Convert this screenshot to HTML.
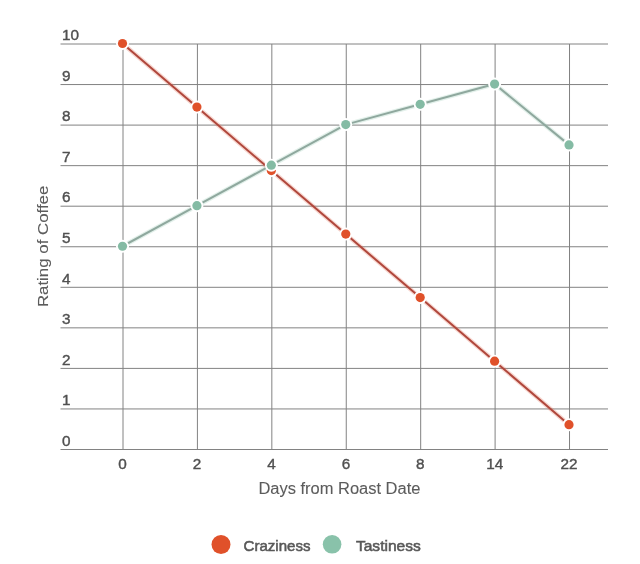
<!DOCTYPE html>
<html><head><meta charset="utf-8"><style>
html,body{margin:0;padding:0;background:#fff;}
svg{display:block;font-family:"Liberation Sans",Arial,sans-serif;}
</style></head><body>
<svg width="640" height="564" viewBox="0 0 640 564">
<rect width="640" height="564" fill="#fff"/>
<g stroke="#828282" stroke-width="1"><line x1="60.5" y1="449.50" x2="608" y2="449.50"/><line x1="60.5" y1="408.95" x2="608" y2="408.95"/><line x1="60.5" y1="368.40" x2="608" y2="368.40"/><line x1="60.5" y1="327.85" x2="608" y2="327.85"/><line x1="60.5" y1="287.30" x2="608" y2="287.30"/><line x1="60.5" y1="246.75" x2="608" y2="246.75"/><line x1="60.5" y1="206.20" x2="608" y2="206.20"/><line x1="60.5" y1="165.65" x2="608" y2="165.65"/><line x1="60.5" y1="125.10" x2="608" y2="125.10"/><line x1="60.5" y1="84.55" x2="608" y2="84.55"/><line x1="60.5" y1="44.00" x2="608" y2="44.00"/><line x1="123.00" y1="44.00" x2="123.00" y2="449.50"/><line x1="197.42" y1="44.00" x2="197.42" y2="449.50"/><line x1="271.84" y1="44.00" x2="271.84" y2="449.50"/><line x1="346.26" y1="44.00" x2="346.26" y2="449.50"/><line x1="420.68" y1="44.00" x2="420.68" y2="449.50"/><line x1="495.10" y1="44.00" x2="495.10" y2="449.50"/><line x1="569.52" y1="44.00" x2="569.52" y2="449.50"/></g>
<g font-size="15.3" fill="#505050" stroke="#505050" stroke-width="0.4"><text x="61.9" y="445.7">0</text><text x="61.9" y="405.1">1</text><text x="61.9" y="364.6">2</text><text x="61.9" y="324.1">3</text><text x="61.9" y="283.5">4</text><text x="61.9" y="242.9">5</text><text x="61.9" y="202.4">6</text><text x="61.9" y="161.9">7</text><text x="61.9" y="121.3">8</text><text x="61.9" y="80.8">9</text><text x="61.9" y="40.2">10</text><text x="122.6" y="469" text-anchor="middle">0</text><text x="197.0" y="469" text-anchor="middle">2</text><text x="271.4" y="469" text-anchor="middle">4</text><text x="345.9" y="469" text-anchor="middle">6</text><text x="420.3" y="469" text-anchor="middle">8</text><text x="494.7" y="469" text-anchor="middle">14</text><text x="569.1" y="469" text-anchor="middle">22</text></g>
<text x="339.4" y="494.3" text-anchor="middle" font-size="16" fill="#5c5c5c" stroke="#5c5c5c" stroke-width="0.1" textLength="162" lengthAdjust="spacingAndGlyphs">Days from Roast Date</text>
<text transform="translate(48.2,246.4) rotate(-90)" x="0" y="0" text-anchor="middle" font-size="15" fill="#5c5c5c" stroke="#5c5c5c" stroke-width="0.1" textLength="121.4" lengthAdjust="spacingAndGlyphs">Rating of Coffee</text>
<polyline points="122.50,43.50 196.92,107.03 271.34,170.56 345.76,234.09 420.18,297.61 494.60,361.14 569.02,424.67" fill="none" stroke="#e57a62" stroke-opacity="0.3" stroke-width="4.5" stroke-linejoin="round"/><polyline points="122.50,43.50 196.92,107.03 271.34,170.56 345.76,234.09 420.18,297.61 494.60,361.14 569.02,424.67" fill="none" stroke="#b0473c" stroke-width="2" stroke-linejoin="round"/><circle cx="122.50" cy="43.50" r="6.5" fill="#fff"/><circle cx="122.50" cy="43.50" r="4.6" fill="#e0512a"/><circle cx="196.92" cy="107.03" r="6.5" fill="#fff"/><circle cx="196.92" cy="107.03" r="4.6" fill="#e0512a"/><circle cx="271.34" cy="170.56" r="6.5" fill="#fff"/><circle cx="271.34" cy="170.56" r="4.6" fill="#e0512a"/><circle cx="345.76" cy="234.09" r="6.5" fill="#fff"/><circle cx="345.76" cy="234.09" r="4.6" fill="#e0512a"/><circle cx="420.18" cy="297.61" r="6.5" fill="#fff"/><circle cx="420.18" cy="297.61" r="4.6" fill="#e0512a"/><circle cx="494.60" cy="361.14" r="6.5" fill="#fff"/><circle cx="494.60" cy="361.14" r="4.6" fill="#e0512a"/><circle cx="569.02" cy="424.67" r="6.5" fill="#fff"/><circle cx="569.02" cy="424.67" r="4.6" fill="#e0512a"/>
<polyline points="122.50,246.25 196.92,205.70 271.34,165.15 345.76,124.60 420.18,104.33 494.60,84.05 569.02,144.88" fill="none" stroke="#9fcdb8" stroke-opacity="0.3" stroke-width="4.5" stroke-linejoin="round"/><polyline points="122.50,246.25 196.92,205.70 271.34,165.15 345.76,124.60 420.18,104.33 494.60,84.05 569.02,144.88" fill="none" stroke="#8fa89e" stroke-width="2" stroke-linejoin="round"/><circle cx="122.50" cy="246.25" r="6.5" fill="#fff"/><circle cx="122.50" cy="246.25" r="4.6" fill="#84bba4"/><circle cx="196.92" cy="205.70" r="6.5" fill="#fff"/><circle cx="196.92" cy="205.70" r="4.6" fill="#84bba4"/><circle cx="271.34" cy="165.15" r="6.5" fill="#fff"/><circle cx="271.34" cy="165.15" r="4.6" fill="#84bba4"/><circle cx="345.76" cy="124.60" r="6.5" fill="#fff"/><circle cx="345.76" cy="124.60" r="4.6" fill="#84bba4"/><circle cx="420.18" cy="104.33" r="6.5" fill="#fff"/><circle cx="420.18" cy="104.33" r="4.6" fill="#84bba4"/><circle cx="494.60" cy="84.05" r="6.5" fill="#fff"/><circle cx="494.60" cy="84.05" r="4.6" fill="#84bba4"/><circle cx="569.02" cy="144.88" r="6.5" fill="#fff"/><circle cx="569.02" cy="144.88" r="4.6" fill="#84bba4"/>
<circle cx="221" cy="544.5" r="9.5" fill="#e0512a"/>
<text x="243.5" y="550.8" font-size="15.2" fill="#585858" stroke="#585858" stroke-width="0.55" textLength="67" lengthAdjust="spacingAndGlyphs">Craziness</text>
<circle cx="332.1" cy="544.3" r="9.3" fill="#89c2aa"/>
<text x="355.9" y="550.8" font-size="15.2" fill="#585858" stroke="#585858" stroke-width="0.55" textLength="65" lengthAdjust="spacingAndGlyphs">Tastiness</text>
</svg>
</body></html>
